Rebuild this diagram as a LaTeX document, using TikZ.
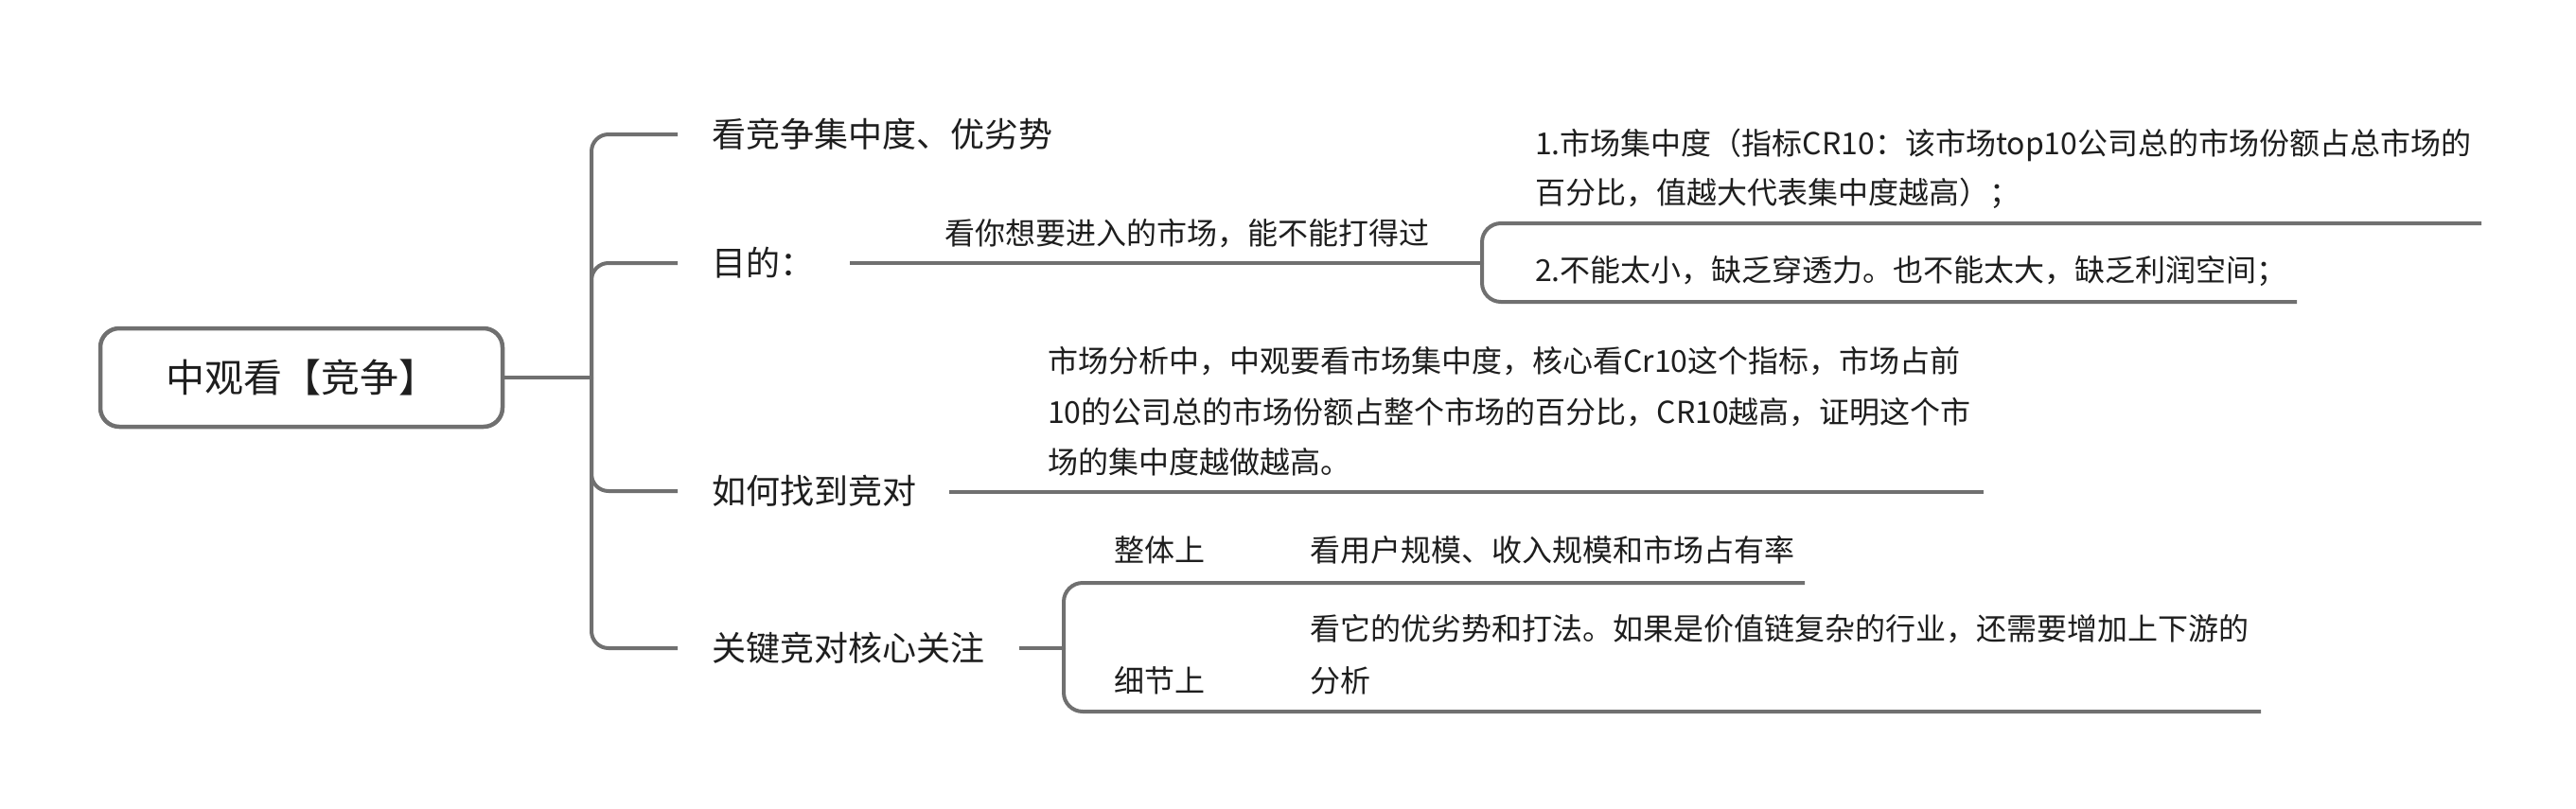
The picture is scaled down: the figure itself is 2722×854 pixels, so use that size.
\documentclass[tikz,border=0pt]{standalone}
\usepackage{fontspec}
\setmainfont{Noto Sans CJK SC}
\definecolor{linegray}{HTML}{707070}
\definecolor{txt}{HTML}{1E1E1E}
\begin{document}
\begin{tikzpicture}[x=1pt,y=-1pt,
  conn/.style={draw=linegray, line width=4pt},
  bigtxt/.style={font=\fontsize{36pt}{44pt}\selectfont, text=txt, inner sep=0pt, anchor=base west},
  smalltxt/.style={font=\fontsize{32pt}{52pt}\selectfont, text=txt, inner sep=0pt, anchor=base west, align=left},
  roottxt/.style={draw=linegray, line width=4.5pt, rounded corners=20pt, minimum width=425pt, minimum height=104pt, inner sep=0pt, font=\fontsize{41pt}{48pt}\selectfont, text=txt}
]
\useasboundingbox (0,0) rectangle (2722,854);
\fill[white] (0,0) rectangle (2722,854);

% root
\node[roottxt] (root) at (318.5,399) {中观看【竞争】};
\coordinate (J) at (625,399);
\draw[conn] (root.east) -- (J);

% level 1
\node[bigtxt] (n1) at (752,155) {看竞争集中度、优劣势};
\node[bigtxt] (n2) at (752,291) {目的：};
\node[bigtxt] (n3) at (752,532) {如何找到竞对};
\node[bigtxt] (n4) at (752,698) {关键竞对核心关注};
\coordinate (a1) at (716,142);
\coordinate (a2) at (716,278);
\coordinate (a3) at (716,519);
\coordinate (a4) at (716,685);
\draw[conn, rounded corners=18pt] (J) |- (a1);
\draw[conn, rounded corners=18pt] (J) |- (a2);
\draw[conn, rounded corners=18pt] (J) |- (a3);
\draw[conn, rounded corners=18pt] (J) |- (a4);

% 目的
\coordinate (s2) at (898,278);
\coordinate (k2) at (1566,278);
\draw[conn] (s2) -- (k2);
\node[smalltxt] (lbl) at (998,258.5) {看你想要进入的市场，能不能打得过};
\coordinate (e21) at (2622,236);
\coordinate (e22) at (2427,319);
\draw[conn, rounded corners=20pt] (k2) |- (e21);
\draw[conn, rounded corners=20pt] (k2) |- (e22);
\node[smalltxt] (c1) at (1622,215.5) {1.市场集中度（指标CR10：该市场top10公司总的市场份额占总市场的\\百分比，值越大代表集中度越高）；};
\node[smalltxt] (c2) at (1622,297.5) {2.不能太小，缺乏穿透力。也不能太大，缺乏利润空间；};

% 如何找到竞对
\coordinate (s3) at (1003,520);
\coordinate (e3) at (2096,520);
\draw[conn] (s3) -- (e3);
\node[smalltxt, font=\fontsize{32pt}{53.5pt}\selectfont] (c3) at (1107,500.5) {市场分析中，中观要看市场集中度，核心看Cr10这个指标，市场占前\\10的公司总的市场份额占整个市场的百分比，CR10越高，证明这个市\\场的集中度越做越高。};

% 关键竞对核心关注
\coordinate (s4) at (1077,685);
\coordinate (k4) at (1124,685);
\draw[conn] (s4) -- (k4);
\coordinate (e41) at (1907,616);
\coordinate (e42) at (2389,752);
\draw[conn, rounded corners=20pt] (k4) |- (e41);
\draw[conn, rounded corners=20pt] (k4) |- (e42);
\node[smalltxt] (d1) at (1177,593.5) {整体上};
\node[smalltxt] (d1c) at (1384,593.5) {看用户规模、收入规模和市场占有率};
\node[smalltxt] (d2) at (1177,731.5) {细节上};
\node[smalltxt, font=\fontsize{32pt}{55pt}\selectfont] (d2c) at (1384,731.5) {看它的优劣势和打法。如果是价值链复杂的行业，还需要增加上下游的\\分析};
\end{tikzpicture}
\end{document}
